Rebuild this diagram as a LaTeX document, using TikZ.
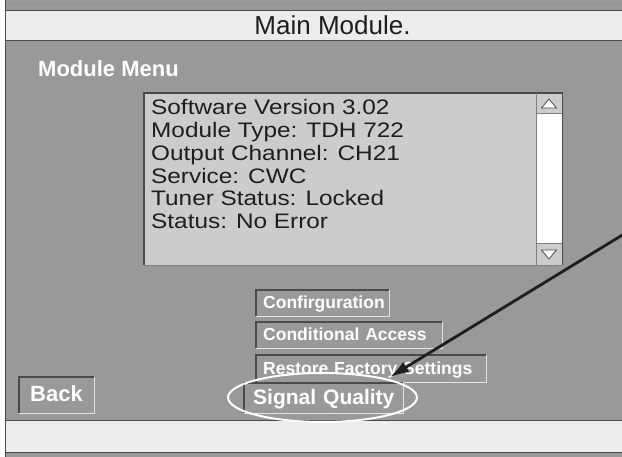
\documentclass[tikz,border=0pt]{standalone}
\usepackage{fontspec}
\setmainfont{Liberation Sans}
\newfontfamily\infofont[FakeStretch=1.16]{Liberation Sans}
\usetikzlibrary{arrows.meta,shapes.geometric}

\definecolor{panelgray}{HTML}{999999}
\definecolor{barlight}{HTML}{ECEDEB}
\definecolor{boxlight}{HTML}{CCCCCC}
\definecolor{bevdarkc}{HTML}{4A4A4A}
\definecolor{bevlightc}{HTML}{E4E4E4}
\definecolor{inktext}{HTML}{1E1E1E}

\tikzset{
  menubtn/.style={anchor=north west, inner xsep=7pt, inner ysep=0pt, align=left,
    text=white, font=\bfseries\fontsize{17.5}{20}\selectfont,
    text height=14pt, text depth=3pt, minimum height=26pt},
  bigbtn/.style={menubtn, font=\bfseries\fontsize{22}{24}\selectfont,
    text height=17pt, text depth=4pt},
  bevdark/.style={draw=bevdarkc, line width=1.5pt},
  bevlight/.style={draw=bevlightc, line width=1.5pt},
  frameline/.style={draw=bevdarkc, line width=1pt},
  infoline/.style={anchor=base west, inner sep=0pt, text=inktext,
    font=\infofont\fontsize{21}{22}\selectfont},
}

\begin{document}
\begin{tikzpicture}[x=1pt,y=-1pt]
  \useasboundingbox (0,0) rectangle (622,457);
  % screen frame
  \fill[white] (0,0) rectangle (622,457);
  \fill[panelgray] (5,0) rectangle (622,457);
  \fill[barlight] (5,10.5) rectangle (622,41);
  \fill[barlight] (5,421) rectangle (622,452);
  \draw[frameline, draw=bevdarkc!60] (5,4.5) -- (622,4.5);
  \draw[frameline] (5,10.5) -- (622,10.5);
  \draw[frameline] (5,41) -- (622,41);
  \draw[frameline] (5,421) -- (622,421);
  \draw[frameline] (5,452) -- (622,452);
  \draw[frameline] (5,0) -- (5,457);

  \node[font=\fontsize{26}{28}\selectfont, text=inktext, anchor=base, inner sep=0pt]
    (title) at (332.5,35) {Main Module.};
  \node[font=\bfseries\fontsize{22}{24}\selectfont, text=white, anchor=base west, inner sep=0pt]
    (menutitle) at (38,77) {Module Menu};

  % info box with scroll bar
  \node[fill=boxlight, anchor=north west, inner sep=0pt, minimum width=392pt, minimum height=172pt]
    (infobox) at (144,93) {};
  \node[fill=boxlight, anchor=north west, inner sep=0pt, minimum width=26pt, minimum height=20pt]
    (scrollup) at (536,93) {};
  \node[fill=white, anchor=north west, inner sep=0pt, minimum width=26pt, minimum height=131pt]
    (scrolltrack) at (536,113) {};
  \node[fill=boxlight, anchor=north west, inner sep=0pt, minimum width=26pt, minimum height=21pt]
    (scrolldown) at (536,244) {};
  \draw[draw=bevdarkc, line width=1.2pt] (infobox.south west) |- (scrollup.north east) -- (scrolldown.south east);
  \draw[draw=bevdarkc!70, line width=1.2pt] (infobox.south west) -- (scrolldown.south east);
  \draw[draw=bevdarkc!70, line width=1pt] (scrollup.north west) -- (scrolldown.south west);
  \draw[draw=bevdarkc!70, line width=1pt] (scrollup.south west) -- (scrollup.south east);
  \draw[draw=bevdarkc!70, line width=1pt] (scrolldown.north west) -- (scrolldown.north east);
  \draw[draw=bevdarkc, fill=white, line width=0.8pt] (549,99) -- (556.5,108) -- (541.5,108) -- cycle;
  \draw[draw=bevdarkc, fill=white, line width=0.8pt] (541.5,250) -- (556.5,250) -- (549,259) -- cycle;

  \foreach \txt [count=\i] in {Software Version 3.02, Module Type: TDH 722,
      Output Channel: CH21, Service: CWC, Tuner Status: Locked, Status: No Error}
    \node[infoline] (info\i) at (151,{115+22.7*(\i-1)}) {\txt};

  % menu buttons
  \node[menubtn, text width=119pt] (cfgbtn) at (256,290) {\mbox{Confirguration}};
  \node[menubtn, text width=172pt] (cabtn) at (256,322) {\mbox{Conditional Access}};
  \node[menubtn, text width=216pt, minimum height=27pt] (rfsbtn) at (256,355) {\mbox{Restore Factory Settings}};
  \node[bigbtn, inner xsep=11pt, text width=53pt, minimum height=36pt] (backbtn) at (19,377) {\mbox{Back}};
  \node[bigbtn, font=\bfseries\fontsize{21}{24}\selectfont, text height=16pt, inner xsep=9pt,
    text width=141pt, minimum height=30pt] (sqbtn) at (244,383) {\mbox{Signal Quality}};
  \foreach \b in {cfgbtn,cabtn,rfsbtn,backbtn,sqbtn} {
    \draw[bevlight] (\b.south west) -| (\b.north east);
    \draw[bevdark] (\b.south west) |- (\b.north east);
  }

  % highlight
  \node[ellipse, draw=white, line width=2pt, inner sep=0pt, minimum width=189pt, minimum height=49pt]
    (sqring) at (322.5,397.5) {};
  \coordinate (arrowtail) at (624,234);
  \coordinate (arrowtip) at (390,377);
  \draw[inktext, line width=2.8pt, -{Latex[length=19pt,width=12pt]}] (arrowtail) -- (arrowtip);
\end{tikzpicture}
\end{document}
